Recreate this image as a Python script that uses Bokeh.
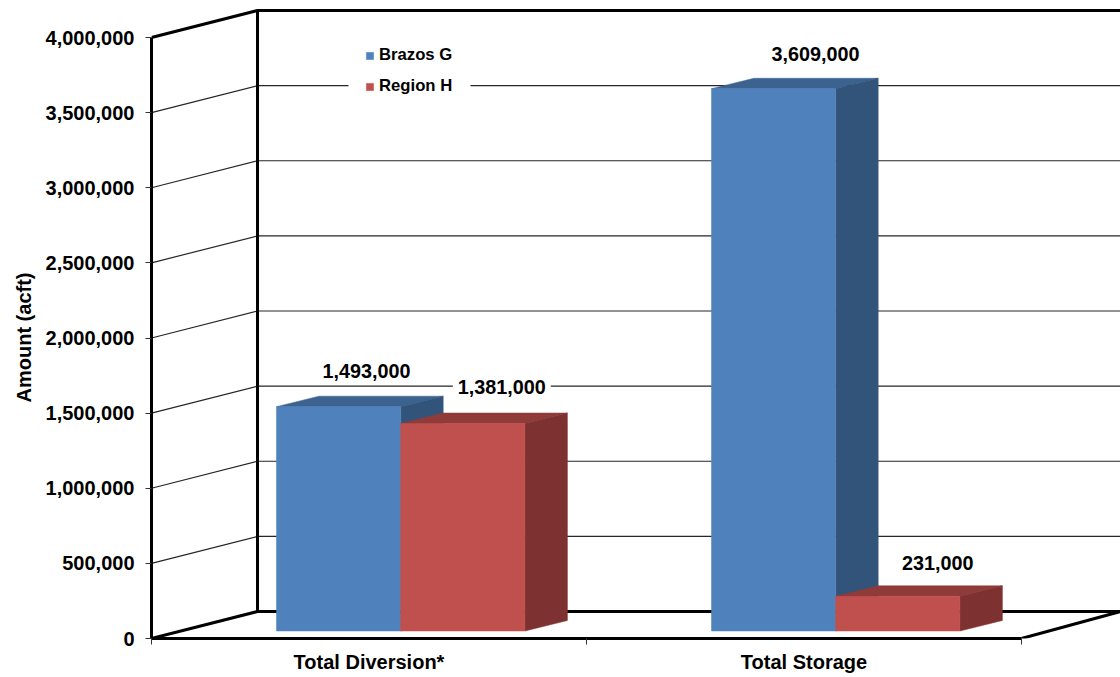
from bokeh.embed import file_html
from bokeh.resources import INLINE
from bokeh.plotting import figure
from bokeh.models import (ColumnDataSource, FixedTicker, Legend, LegendItem,
                          NumeralTickFormatter, SingleIntervalTicker, Title)
from bokeh.core.properties import value

# Chart values
categories = ["Total Diversion*", "Total Storage"]
brazos_g = [1493000, 3609000]
region_h = [1381000, 231000]
series_names = ["Brazos G", "Region H"]
y_title = "Amount (acft)"

# Scales: one category is 435 px wide, 4,000,000 acft is 601 px tall
PX_X = 1 / 435
PX_Y = 4000000 / 601
FRAME_W, FRAME_H = 969, 633
X_END = FRAME_W * PX_X
Y_END = FRAME_H * PX_Y

# Oblique projection of the chart box and of the bars
WALL_DX, WALL_DY = 106 * PX_X, 27 * PX_Y
BAR_DX, BAR_DY = 42.5 * PX_X, 10.5 * PX_Y
BAR_W = 124.2 * PX_X
BAR_START = 125 * PX_X
BAR_LIFT = 7.5 * PX_Y

FONT = "Liberation Sans"
AXIS_PX = "20px"
VALUE_PX = "19.8px"

p = figure(width=1120, height=677, output_backend="svg", toolbar_location=None,
           x_range=(0, X_END), y_range=(0, Y_END),
           min_border_left=151, min_border_right=0, min_border_top=5, min_border_bottom=39)
p.grid.visible = False
p.outline_line_color = None
p.background_fill_color = "white"

# Left axis
ya = p.yaxis[0]
ya.ticker = SingleIntervalTicker(interval=500000, num_minor_ticks=0)
ya.formatter = NumeralTickFormatter(format="0,0")
ya.bounds = (0, 4000000)
ya.axis_line_color = "black"
ya.axis_line_width = 3
ya.major_tick_in = 0
ya.major_tick_out = 6
ya.major_tick_line_color = "#333333"
ya.minor_tick_line_color = None
ya.major_label_text_font = FONT
ya.major_label_text_font_style = "bold"
ya.major_label_text_font_size = AXIS_PX
ya.major_label_text_color = "black"
ya.major_label_standoff = 11

# Axis title, started part way up the frame so it sits centred on the axis span
p.add_layout(Title(text=y_title, align="left", offset=236, standoff=16,
                   text_font=FONT, text_font_style="bold", text_font_size=AXIS_PX,
                   text_color="black"), "left")

# Bottom axis: names centred in each category, separators as minor ticks
xa = p.xaxis[0]
xa.ticker = FixedTicker(ticks=[i + 0.5 for i in range(len(categories))],
                        minor_ticks=list(range(len(categories) + 1)))
xa.major_label_overrides = {i + 0.5: c for i, c in enumerate(categories)}
xa.bounds = (0, len(categories))
xa.axis_line_color = "black"
xa.axis_line_width = 3
xa.major_tick_in = 0
xa.major_tick_out = 0
xa.minor_tick_in = 0
xa.minor_tick_out = 6
xa.minor_tick_line_color = "#333333"
xa.major_label_text_font = FONT
xa.major_label_text_font_style = "bold"
xa.major_label_text_font_size = AXIS_PX
xa.major_label_text_color = "black"
xa.major_label_standoff = 6

# Gridlines run obliquely across the side wall, then flat along the back wall
grid_levels = list(range(500000, 4000000, 500000))
p.multi_line(xs=[[0, WALL_DX, X_END] for _ in grid_levels],
             ys=[[v, v + WALL_DY, v + WALL_DY] for v in grid_levels],
             line_color="#262626", line_width=1.2)

# White panel behind the legend interrupts the gridline it crosses
p.quad(left=[197 * PX_X], right=[319 * PX_X], bottom=[510 * PX_Y], top=[590 * PX_Y],
       fill_color="white", line_color=None)

# Heavy edges of the box
box_levels = [0, 4000000]
p.multi_line(xs=[[0, WALL_DX, X_END] for _ in box_levels],
             ys=[[v, v + WALL_DY, v + WALL_DY] for v in box_levels],
             line_color="black", line_width=3)
p.line([WALL_DX, WALL_DX], [WALL_DY, 4000000 + WALL_DY], line_color="black", line_width=3)
p.line([len(categories), X_END], [0, WALL_DY], line_color="black", line_width=3)


def draw_bars(values, slot, front, top, side):
    """Draw one series as prisms: back faces first, then the front face."""
    left = [i + BAR_START + slot * BAR_W for i in range(len(values))]
    right = [x + BAR_W for x in left]
    base = [BAR_LIFT] * len(values)
    peak = [BAR_LIFT + v for v in values]
    p.patches(xs=[[l, l + BAR_DX, r + BAR_DX, r] for l, r in zip(left, right)],
              ys=[[t, t + BAR_DY, t + BAR_DY, t] for t in peak],
              fill_color=top, line_color=top, line_width=0.5)
    p.patches(xs=[[r, r + BAR_DX, r + BAR_DX, r] for r in right],
              ys=[[b, b + BAR_DY, t + BAR_DY, t] for b, t in zip(base, peak)],
              fill_color=side, line_color=side, line_width=0.5)
    return p.quad(left=left, right=right, bottom=base, top=peak,
                  fill_color=front, line_color=front, line_width=0.5)


r_brazos = draw_bars(brazos_g, 0, "#4F81BD", "#3C6290", "#32547A")
r_region = draw_bars(region_h, 1, "#C0504D", "#8F3B39", "#7D3231")

# Value captions above the bars, with a white backing that breaks the gridlines
label_values = brazos_g + region_h
label_slots = [0, 0, 1, 1]
label_cats = [0, 1, 0, 1]
label_shift = [28, 42, 39, 40]
label_rise = [25.5, 24, 26, 22.5]
src = ColumnDataSource(dict(
    x=[c + BAR_START + s * BAR_W + BAR_W / 2 + d * PX_X
       for c, s, d in zip(label_cats, label_slots, label_shift)],
    y=[v + BAR_LIFT + BAR_DY + r * PX_Y for v, r in zip(label_values, label_rise)],
    text=[f"{v:,}" for v in label_values],
))
p.text("x", "y", text="text", source=src, text_align="center", text_baseline="middle",
       text_font=value(FONT), text_font_style="bold", text_font_size=value(VALUE_PX),
       text_color="black", background_fill_color="white", padding=5)

legend = Legend(items=[LegendItem(label=series_names[0], renderers=[r_brazos]),
                       LegendItem(label=series_names[1], renderers=[r_region])],
                location=(214, 542), orientation="vertical", margin=0, padding=18,
                spacing=11, glyph_width=9, glyph_height=9, label_standoff=5,
                label_height=20, label_text_font=FONT, label_text_font_style="bold",
                label_text_font_size="16.7px", label_text_color="black",
                border_line_color=None, background_fill_alpha=0)
p.add_layout(legend, "center")

open("out.html", "w").write(file_html(p, INLINE))
